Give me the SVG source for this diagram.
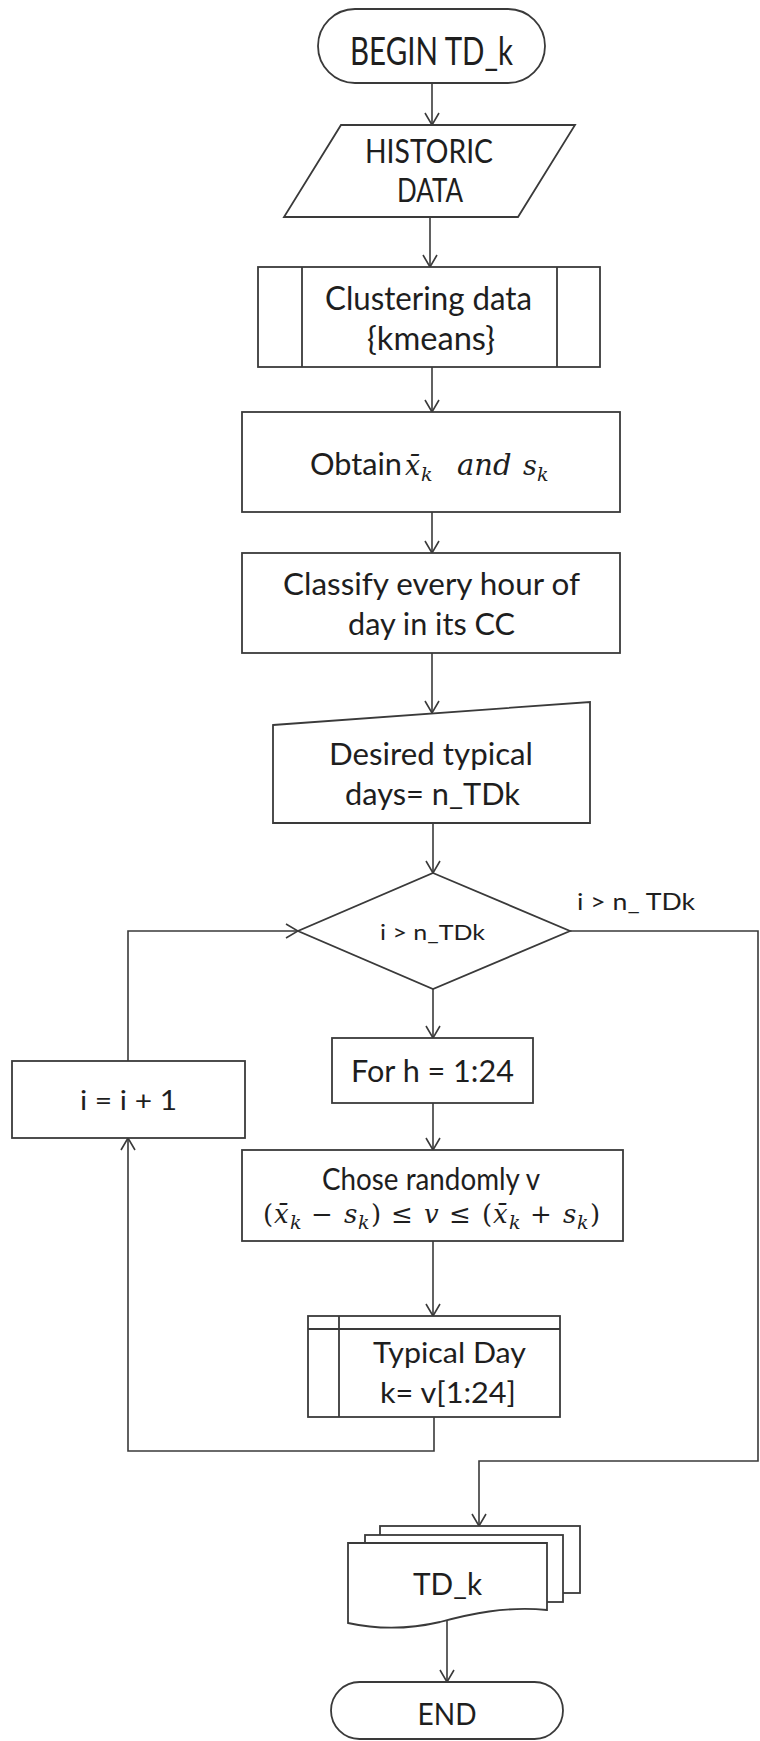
<svg xmlns="http://www.w3.org/2000/svg" width="760" height="1741" viewBox="0 0 760 1741">
  <style>
    .shape { fill: #ffffff; stroke: #3a3a3a; stroke-width: 1.8; }
    .line { fill: none; stroke: #3a3a3a; stroke-width: 1.8; }
    .wire { fill: none; stroke: #3a3a3a; stroke-width: 1.6; }
    .t { font-family: Lato, "Liberation Sans", sans-serif; fill: #1e1e1e; text-anchor: middle; }
    .ts { font-family: Lato, "Liberation Sans", sans-serif; fill: #1e1e1e; }
    .m { font-family: "DejaVu Serif", "Liberation Serif", serif; font-style: italic; fill: #1e1e1e; }
    .mo { font-family: "DejaVu Serif", "Liberation Serif", serif; fill: #1e1e1e; }
  </style>
  <defs>
    <marker id="arrow" viewBox="0 0 14 16" refX="13" refY="8" markerWidth="14" markerHeight="16" markerUnits="userSpaceOnUse" orient="auto">
      <path d="M1,1 L13,8 L1,15" fill="none" stroke="#3a3a3a" stroke-width="1.6"/>
    </marker>
  </defs>
  <rect width="760" height="1741" fill="#ffffff"/>

  <!-- connectors -->
  <g id="connectors">
    <path class="wire" d="M432,83 V125" marker-end="url(#arrow)"/>
    <path class="wire" d="M430,217 V267" marker-end="url(#arrow)"/>
    <path class="wire" d="M432,367 V412" marker-end="url(#arrow)"/>
    <path class="wire" d="M432,512 V553" marker-end="url(#arrow)"/>
    <path class="wire" d="M432,653 V713" marker-end="url(#arrow)"/>
    <path class="wire" d="M433,823 V873" marker-end="url(#arrow)"/>
    <path class="wire" d="M433,989 V1038" marker-end="url(#arrow)"/>
    <path class="wire" d="M433,1103 V1150" marker-end="url(#arrow)"/>
    <path class="wire" d="M433,1241 V1316" marker-end="url(#arrow)"/>
    <!-- loop back: typical day -> i = i + 1 -->
    <path class="wire" d="M434,1417 V1451 H128 V1138" marker-end="url(#arrow)"/>
    <!-- i = i + 1 -> decision -->
    <path class="wire" d="M128,1061 V931 H298" marker-end="url(#arrow)"/>
    <!-- exit branch -> output documents -->
    <path class="wire" d="M570,931 H758 V1461 H479 V1526" marker-end="url(#arrow)"/>
    <path class="wire" d="M447,1621 V1682" marker-end="url(#arrow)"/>
    <text class="t" x="636" y="910" font-size="24" textLength="118" lengthAdjust="spacingAndGlyphs">i &gt; n_ TDk</text>
  </g>

  <!-- start terminal -->
  <g id="begin">
    <rect class="shape" x="318" y="9" width="227" height="74" rx="37" ry="37"/>
    <text class="t" x="431.5" y="65" font-size="39" textLength="163" lengthAdjust="spacingAndGlyphs">BEGIN TD_k</text>
  </g>

  <!-- input data -->
  <g id="historic-data">
    <polygon class="shape" points="341,125 575,125 518,217 284,217"/>
    <text class="t" x="429" y="163" font-size="32" textLength="128" lengthAdjust="spacingAndGlyphs">HISTORIC</text>
    <text class="t" x="430" y="202" font-size="32" textLength="66" lengthAdjust="spacingAndGlyphs">DATA</text>
  </g>

  <!-- predefined process -->
  <g id="clustering">
    <rect class="shape" x="258" y="267" width="342" height="100"/>
    <path class="line" d="M302,267 V367 M557,267 V367"/>
    <text class="t" x="428.5" y="310" font-size="32" textLength="207" lengthAdjust="spacingAndGlyphs">Clustering data</text>
    <text class="t" x="431" y="350" font-size="32" textLength="128" lengthAdjust="spacingAndGlyphs">{kmeans}</text>
  </g>

  <g id="obtain">
    <rect class="shape" x="242" y="412" width="378" height="100"/>
    <text class="ts" x="310" y="475" font-size="31" textLength="92" lengthAdjust="spacingAndGlyphs">Obtain</text>
    <text class="m" x="405" y="475" font-size="27">x&#x0304;</text>
    <text class="m" x="421" y="481" font-size="19">k</text>
    <text class="m" x="457" y="475" font-size="29">and</text>
    <text class="m" x="523" y="475" font-size="27">s</text>
    <text class="m" x="537" y="481" font-size="19">k</text>
  </g>

  <g id="classify">
    <rect class="shape" x="242" y="553" width="378" height="100"/>
    <text class="t" x="431.5" y="595" font-size="31" textLength="297" lengthAdjust="spacingAndGlyphs">Classify every hour of</text>
    <text class="t" x="431.5" y="635" font-size="31" textLength="167" lengthAdjust="spacingAndGlyphs">day in its CC</text>
  </g>

  <!-- manual input -->
  <g id="desired-days">
    <polygon class="shape" points="273,725 590,702 590,823 273,823"/>
    <text class="t" x="431" y="765" font-size="31" textLength="204" lengthAdjust="spacingAndGlyphs">Desired typical</text>
    <text class="t" x="432.5" y="805" font-size="31" textLength="175" lengthAdjust="spacingAndGlyphs">days= n_TDk</text>
  </g>

  <g id="decision">
    <polygon class="shape" points="433,873 570,931 433,989 298,931"/>
    <text class="t" x="432.5" y="940" font-size="21" textLength="105" lengthAdjust="spacingAndGlyphs">i &gt; n_TDk</text>
  </g>

  <g id="increment">
    <rect class="shape" x="12" y="1061" width="233" height="77"/>
    <text class="t" x="128.5" y="1110" font-size="27" textLength="97" lengthAdjust="spacingAndGlyphs">i = i + 1</text>
  </g>

  <g id="for-hours">
    <rect class="shape" x="332" y="1038" width="201" height="65"/>
    <text class="t" x="432.5" y="1082" font-size="30" textLength="163" lengthAdjust="spacingAndGlyphs">For h = 1:24</text>
  </g>

  <g id="choose-random">
    <rect class="shape" x="242" y="1150" width="381" height="91"/>
    <text class="t" x="431" y="1190" font-size="30" textLength="218" lengthAdjust="spacingAndGlyphs">Chose randomly v</text>
    <text font-size="26" y="1223">
      <tspan class="mo" x="263">(</tspan>
      <tspan class="m" x="274">x&#x0304;</tspan>
      <tspan class="m" x="290" dy="6" font-size="19">k</tspan>
      <tspan class="mo" x="311" dy="-6">&#x2212;</tspan>
      <tspan class="m" x="344">s</tspan>
      <tspan class="m" x="358" dy="6" font-size="19">k</tspan>
      <tspan class="mo" x="371" dy="-6">)</tspan>
      <tspan class="mo" x="391">&#x2264;</tspan>
      <tspan class="m" x="424">v</tspan>
      <tspan class="mo" x="449">&#x2264;</tspan>
      <tspan class="mo" x="482">(</tspan>
      <tspan class="m" x="493">x&#x0304;</tspan>
      <tspan class="m" x="509" dy="6" font-size="19">k</tspan>
      <tspan class="mo" x="530" dy="-6">+</tspan>
      <tspan class="m" x="563">s</tspan>
      <tspan class="m" x="577" dy="6" font-size="19">k</tspan>
      <tspan class="mo" x="590" dy="-6">)</tspan>
    </text>
  </g>

  <!-- internal storage -->
  <g id="typical-day">
    <rect class="shape" x="308" y="1316" width="252" height="101"/>
    <path class="line" d="M308,1329 H560 M339,1316 V1417"/>
    <text class="t" x="449.5" y="1363" font-size="29" textLength="153" lengthAdjust="spacingAndGlyphs">Typical Day</text>
    <text class="t" x="448" y="1403" font-size="29" textLength="136" lengthAdjust="spacingAndGlyphs">k= v[1:24]</text>
  </g>

  <!-- multiple documents -->
  <g id="td-output">
    <rect class="shape" x="380" y="1526" width="200" height="67"/>
    <rect class="shape" x="365" y="1535" width="198" height="67"/>
    <path class="shape" d="M348,1543 H547 V1610 C505,1606 470,1614 440,1622 C410,1629 380,1630 348,1623 Z"/>
    <text class="t" x="447.5" y="1595" font-size="31" textLength="69" lengthAdjust="spacingAndGlyphs">TD_k</text>
  </g>

  <!-- end terminal -->
  <g id="end">
    <rect class="shape" x="331" y="1682" width="232" height="57" rx="28.5" ry="28.5"/>
    <text class="t" x="447" y="1725" font-size="31" textLength="59" lengthAdjust="spacingAndGlyphs">END</text>
  </g>
</svg>
